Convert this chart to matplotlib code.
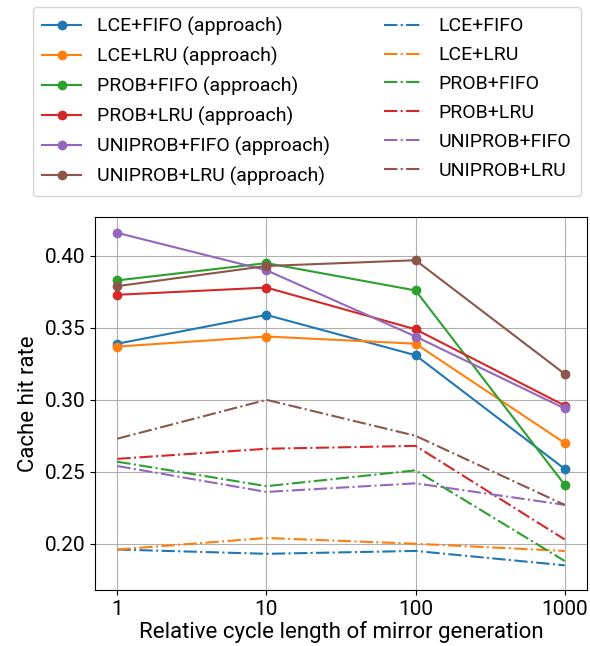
import numpy as np
import matplotlib.pyplot as plt

plt.rcParams["font.family"] = ["Roboto", "DejaVu Sans"]
plt.rcParams["font.size"] = 14
plt.rcParams["xtick.labelsize"] = 15
plt.rcParams["ytick.labelsize"] = 15
plt.rcParams["axes.labelsize"] = 16

cycle_lengths = [1, 10, 100, 1000]
names = ["LCE+FIFO", "LCE+LRU", "PROB+FIFO", "PROB+LRU", "UNIPROB+FIFO", "UNIPROB+LRU"]
colors = ["tab:blue", "tab:orange", "tab:green", "tab:red", "tab:purple", "tab:brown"]

# hit rates with the approach
approach_lce_fifo = [0.339, 0.359, 0.331, 0.252]
approach_lce_lru = [0.337, 0.344, 0.339, 0.270]
approach_prob_fifo = [0.383, 0.395, 0.376, 0.241]
approach_prob_lru = [0.373, 0.378, 0.349, 0.296]
approach_uniprob_fifo = [0.416, 0.390, 0.344, 0.294]
approach_uniprob_lru = [0.379, 0.393, 0.397, 0.318]

# baselines
base_lce_fifo = [0.196, 0.193, 0.195, 0.185]
base_lce_lru = [0.196, 0.204, 0.200, 0.195]
base_prob_fifo = [0.257, 0.240, 0.251, 0.188]
base_prob_lru = [0.259, 0.266, 0.268, 0.203]
base_uniprob_fifo = [0.254, 0.236, 0.242, 0.227]
base_uniprob_lru = [0.273, 0.300, 0.275, 0.227]

approach = [approach_lce_fifo, approach_lce_lru, approach_prob_fifo,
            approach_prob_lru, approach_uniprob_fifo, approach_uniprob_lru]
baseline = [base_lce_fifo, base_lce_lru, base_prob_fifo,
            base_prob_lru, base_uniprob_fifo, base_uniprob_lru]

fig = plt.figure(figsize=(5.9, 6.46), dpi=100)
ax = fig.add_axes([0.161, 0.087, 0.834, 0.577])

for name, color, vals in zip(names, colors, approach):
    ax.plot(cycle_lengths, vals, marker="o", color=color, label=f"{name} (approach)")
for name, color, vals in zip(names, colors, baseline):
    ax.plot(cycle_lengths, vals, linestyle="-.", color=color, label=name)

ax.set_xscale("log")
ax.set_xticks(cycle_lengths)
ax.set_xticklabels([str(c) for c in cycle_lengths])
ax.minorticks_off()
ax.set_yticks([0.20, 0.25, 0.30, 0.35, 0.40])
ax.set_yticklabels(["0.20", "0.25", "0.30", "0.35", "0.40"])
ax.set_ylim(0.168, 0.427)
ax.grid(True)
ax.set_xlabel("Relative cycle length of mirror generation", labelpad=2)
ax.set_ylabel("Cache hit rate")

fig.legend(loc="upper center", bbox_to_anchor=(0.52, 1.0), ncol=2,
           columnspacing=2.8, labelspacing=0.56, borderaxespad=0.35,
           borderpad=0.5)

fig.savefig("out.png", dpi=100)
